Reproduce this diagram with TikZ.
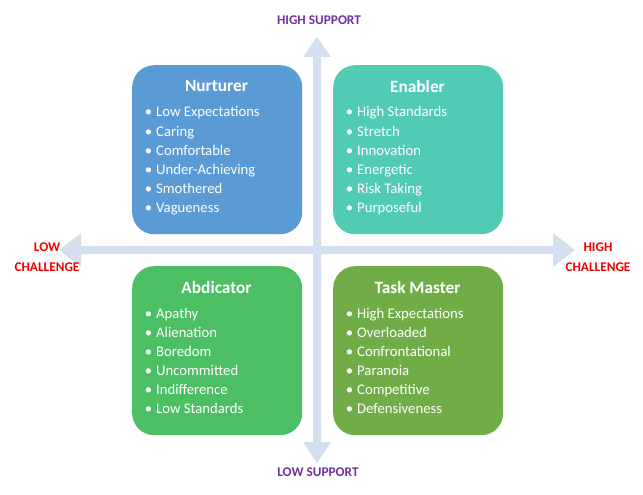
\documentclass[tikz,border=0pt]{standalone}
\usepackage{fontspec}
\setmainfont{Carlito}
\definecolor{nurtc}{HTML}{5B9BD5}
\definecolor{enabc}{HTML}{52CBB5}
\definecolor{abdic}{HTML}{4CBF65}
\definecolor{taskc}{HTML}{70AD47}
\definecolor{arrc}{HTML}{D3DEEE}
\definecolor{purp}{HTML}{7030A0}
\definecolor{redc}{HTML}{F00000}
\tikzset{
  quad/.style={rounded corners=22pt, minimum width=170pt, minimum height=169pt, inner sep=0pt, anchor=north west},
  qtitle/.style={text=white, font=\fontsize{17.3}{20}\selectfont\bfseries, inner sep=0pt},
  item/.style={text=white, font=\fontsize{14.7}{17}\selectfont, inner sep=0pt, anchor=base west},
  axlabel/.style={font=\fontsize{13.3}{20}\selectfont\bfseries, align=center, inner sep=0pt},
}
\begin{document}
\begin{tikzpicture}[x=1pt,y=-1pt]
\useasboundingbox (0,0) rectangle (643,495);
% axes
\fill[arrc] (317,37) -- (331,57) -- (321,57) -- (321,442) -- (331,442) -- (317,463) -- (303,442) -- (313,442) -- (313,57) -- (303,57) -- cycle;
\fill[arrc] (59,250) -- (81,233) -- (81,246) -- (553,246) -- (553,233) -- (575,250) -- (553,267) -- (553,254) -- (81,254) -- (81,267) -- cycle;
% axis labels
\node[axlabel, text=purp] (hs) at (319,20) {HIGH SUPPORT};
\node[axlabel, text=purp] (ls) at (318,472) {LOW SUPPORT};
\node[axlabel, text=redc] (lc) at (47,257) {LOW\\CHALLENGE};
\node[axlabel, text=redc] (hc) at (598,257) {HIGH\\CHALLENGE};
% quadrants
\node[quad, fill=nurtc] (nurt) at (132,65) {};
\node[quad, fill=enabc] (enab) at (333,65) {};
\node[quad, fill=abdic] (abdi) at (132,266) {};
\node[quad, fill=taskc] (task) at (333,266) {};
\node[qtitle] (nurtT) at (216.5,86) {Nurturer};
\node[qtitle] (enabT) at (417.5,86) {Enabler};
\node[qtitle] (abdiT) at (216.5,287) {Abdicator};
\node[qtitle] (taskT) at (417.5,287) {Task Master};
\foreach \t [count=\i] in {Low Expectations,Caring,Comfortable,Under-Achieving,Smothered,Vagueness}{
  \node[item] (nurt\i) at (156,{112+19*(\i-1)+5}) {\t};
  \node[item, anchor=base] (nurtb\i) at (148.5,{112+19*(\i-1)+5}) {•};
}
\foreach \t [count=\i] in {High Standards,Stretch,Innovation,Energetic,Risk Taking,Purposeful}{
  \node[item] (enab\i) at (357,{112+19*(\i-1)+5}) {\t};
  \node[item, anchor=base] (enabb\i) at (349.5,{112+19*(\i-1)+5}) {•};
}
\foreach \t [count=\i] in {Apathy,Alienation,Boredom,Uncommitted,Indifference,Low Standards}{
  \node[item] (abdi\i) at (156,{313+19*(\i-1)+5}) {\t};
  \node[item, anchor=base] (abdib\i) at (148.5,{313+19*(\i-1)+5}) {•};
}
\foreach \t [count=\i] in {High Expectations,Overloaded,Confrontational,Paranoia,Competitive,Defensiveness}{
  \node[item] (task\i) at (357,{313+19*(\i-1)+5}) {\t};
  \node[item, anchor=base] (taskb\i) at (349.5,{313+19*(\i-1)+5}) {•};
}
\end{tikzpicture}
\end{document}
